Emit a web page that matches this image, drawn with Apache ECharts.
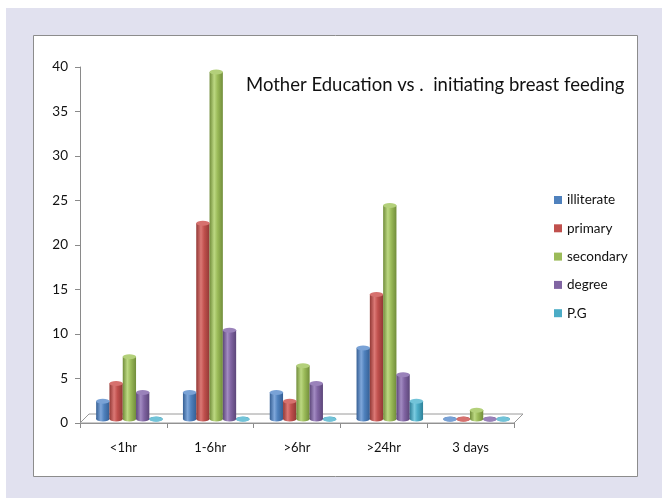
<!DOCTYPE html>
<html>
<head>
<meta charset="utf-8">
<script src="https://cdn.jsdelivr.net/npm/echarts@6/dist/echarts.min.js"></script>
<style>html,body{margin:0;padding:0;background:#fff}#c{width:662px;height:498px}</style>
</head>
<body>
<div id="c"></div>
<script>
const categories = ['<1hr', '1-6hr', '>6hr', '>24hr', '3 days'];
const seriesNames = ['illiterate', 'primary', 'secondary', 'degree', 'P.G'];
const illiterate = [2, 3, 3, 8, 0];
const primary = [4, 22, 2, 14, 0];
const secondary = [7, 39, 6, 24, 1];
const degree = [3, 10, 4, 5, 0];
const pg = [0, 0, 0, 2, 0];
const yMin = 0, yMax = 40, yStep = 5;
const titleText = 'Mother Education vs .  initiating breast feeding';

const values = [illiterate, primary, secondary, degree, pg];
const palette = [
  {base: '#4f81bd', dark: '#355f94', light: '#7fa7da', cap: '#79a2d6'},
  {base: '#c0504d', dark: '#923835', light: '#db7875', cap: '#d6716e'},
  {base: '#9bbb59', dark: '#718d3a', light: '#bcd882', cap: '#b3d07a'},
  {base: '#8064a2', dark: '#5c4679', light: '#a28bc2', cap: '#9a82ba'},
  {base: '#4bacc6', dark: '#2f8199', light: '#7bcbe0', cap: '#72c3d8'}
];
const FONT = 'Lato';
const BW = 13.3;

function grad(p) {
  return new echarts.graphic.LinearGradient(0, 0, 1, 0, [
    {offset: 0, color: p.dark},
    {offset: 0.35, color: p.light},
    {offset: 0.6, color: p.base},
    {offset: 1, color: p.dark}
  ]);
}

const series = [];
// floor of the 3D plot
series.push({
  type: 'custom', xAxisIndex: 0, yAxisIndex: 0, silent: true, z: 1,
  data: [[0, 0]],
  renderItem: function (params, api) {
    const cs = params.coordSys;
    const d = 9;
    return {
      type: 'polygon',
      shape: {points: [[cs.x, cs.y + cs.height], [cs.x + d, cs.y + cs.height - d],
                        [cs.x + cs.width + d, cs.y + cs.height - d], [cs.x + cs.width, cs.y + cs.height]]},
      style: {fill: '#ffffff', stroke: '#9a9a9a', lineWidth: 1}
    };
  }
});
values.forEach(function (vals, i) {
  const p = palette[i];
  series.push({
    name: seriesNames[i], type: 'bar', xAxisIndex: 1, yAxisIndex: 1,
    barWidth: BW, barGap: '0%', z: 3, data: vals,
    itemStyle: {color: grad(p)}
  });
  series.push({
    name: 'cap' + i, type: 'pictorialBar', xAxisIndex: 1, yAxisIndex: 1,
    barWidth: BW, barGap: '0%', z: 4, data: vals,
    symbol: 'circle', symbolSize: [BW, 5], symbolPosition: 'end', symbolOffset: [0, '-50%'],
    itemStyle: {color: p.cap, borderColor: p.dark, borderWidth: 0.5}
  });
  series.push({
    name: 'base' + i, type: 'pictorialBar', xAxisIndex: 2, yAxisIndex: 1,
    barWidth: BW, barGap: '0%', z: 2, data: vals.map(function () { return 0; }),
    symbol: 'circle', symbolSize: [BW, 5], symbolPosition: 'start', symbolOffset: [0, '50%'],
    itemStyle: {color: grad(p)}
  });
});

const chart = echarts.init(document.getElementById('c'), null, {renderer: 'canvas'});
chart.setOption({
  backgroundColor: '#ffffff',
  animation: false,
  graphic: [
    {type: 'rect', z: -20, silent: true, shape: {x: 6, y: 8, width: 656, height: 490}, style: {fill: '#e1e1ef'}},
    {type: 'rect', z: -19, silent: true, shape: {x: 33.5, y: 35.5, width: 604, height: 441}, style: {fill: '#ffffff', stroke: '#8c8c8c', lineWidth: 1}}
  ],
  title: {
    text: titleText, left: 246, top: 76, padding: 0,
    textStyle: {fontFamily: FONT, fontSize: 18.5, fontWeight: 'normal', color: '#111'}
  },
  legend: {
    orient: 'vertical', left: 549, top: 188,
    itemWidth: 8, itemHeight: 8, itemGap: 14.3, itemTextGap: 3, icon: 'rect',
    data: seriesNames.map(function (n, i) { return {name: n, itemStyle: {color: palette[i].base}}; }),
    textStyle: {fontFamily: FONT, fontSize: 13.5, color: '#111', lineHeight: 14}
  },
  grid: [
    {left: 80, right: 148, top: 67, bottom: 75},
    {left: 86, right: 142, top: 63, bottom: 79}
  ],
  xAxis: [
    {type: 'category', gridIndex: 0, data: categories, boundaryGap: true,
     axisLine: {lineStyle: {color: '#8a8a8a'}},
     axisTick: {show: true, length: 5, lineStyle: {color: '#8a8a8a'}},
     axisLabel: {margin: 18, fontFamily: FONT, fontSize: 13, color: '#111'}},
    {type: 'category', gridIndex: 1, data: categories, show: false},
    {type: 'category', gridIndex: 1, data: categories, show: false}
  ],
  yAxis: [
    {type: 'value', gridIndex: 0, min: yMin, max: yMax, interval: yStep,
     axisLine: {show: true, lineStyle: {color: '#8a8a8a'}},
     axisTick: {show: true, length: 5, lineStyle: {color: '#8a8a8a'}},
     splitLine: {show: false},
     axisLabel: {margin: 12, fontFamily: FONT, fontSize: 13.5, color: '#111'}},
    {type: 'value', gridIndex: 1, min: yMin, max: yMax, interval: yStep, show: false, splitLine: {show: false}}
  ],
  series: series
});
</script>
</body>
</html>
